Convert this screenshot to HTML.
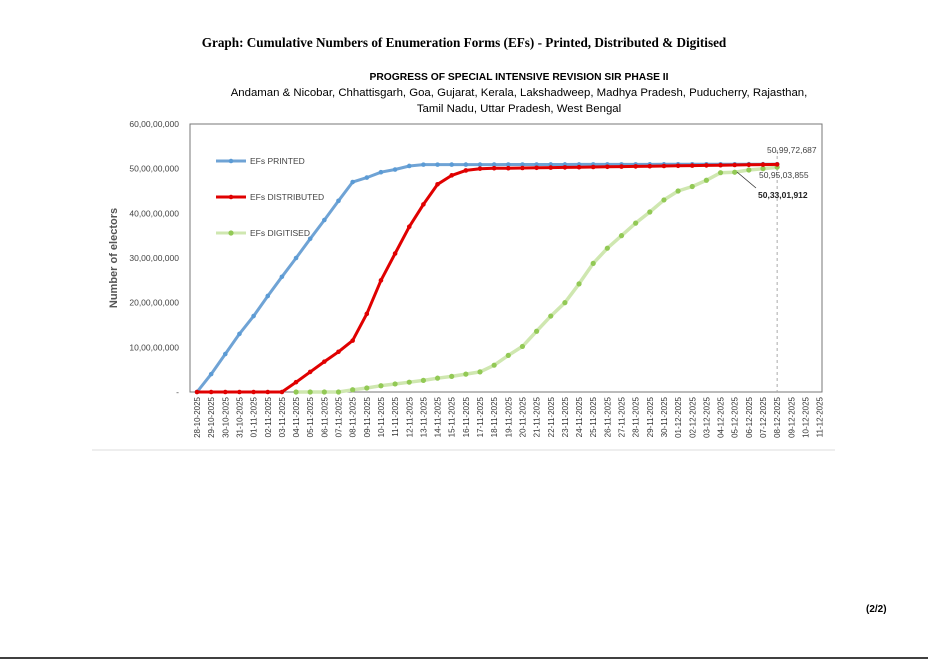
<!DOCTYPE html>
<html><head><meta charset="utf-8"><style>
body{margin:0;background:#fff;width:928px;height:659px;overflow:hidden;font-family:"Liberation Sans",sans-serif}
</style></head><body>
<svg id="s" width="928" height="659" xmlns="http://www.w3.org/2000/svg" font-family="Liberation Sans, sans-serif">
<text x="464" y="47" text-anchor="middle" font-family="Liberation Serif, serif" font-weight="bold" font-size="13.2">Graph: Cumulative Numbers of Enumeration Forms (EFs) - Printed, Distributed &amp; Digitised</text>
<text x="519" y="80" text-anchor="middle" font-weight="bold" font-size="10.3">PROGRESS OF SPECIAL INTENSIVE REVISION SIR PHASE II</text>
<text x="519" y="96" text-anchor="middle" font-size="11.4">Andaman &amp; Nicobar, Chhattisgarh, Goa, Gujarat, Kerala, Lakshadweep, Madhya Pradesh, Puducherry, Rajasthan,</text>
<text x="519" y="112" text-anchor="middle" font-size="11.4">Tamil Nadu, Uttar Pradesh, West Bengal</text>
<line x1="92" y1="450" x2="835" y2="450" stroke="#ddd"/>
<rect x="190" y="124" width="632" height="268" fill="none" stroke="#777" stroke-width="1"/>
<text transform="translate(117,258) rotate(-90)" text-anchor="middle" font-weight="bold" font-size="11" fill="#555">Number of electors</text>
<g id="g"></g>
<text x="866" y="612" font-weight="bold" font-size="10">(2/2)</text>
<line x1="0" y1="658" x2="928" y2="658" stroke="#000" stroke-width="1.5"/>
</svg>
<script>
const g=document.getElementById('g');let h='';
const X=i=>197+14.15*i, Y=v=>392-v*4.467;
for(let k=0;k<=6;k++){let y=Y(k*10);let t=k?k+'0,00,00,000':'-';h+=`<text x="179" y="${y+3}" text-anchor="end" font-size="8.5" fill="#444">${t}</text>`;}
const d0=new Date(2025,9,28);
for(let i=0;i<45;i++){let d=new Date(d0.getTime()+i*864e5);let s=String(d.getDate()).padStart(2,'0')+'-'+String(d.getMonth()+1).padStart(2,'0')+'-2025';
h+=`<text transform="translate(${X(i)+3},397) rotate(-90)" text-anchor="end" font-size="8" fill="#333">${s}</text>`;}
const B=[0,4,8.5,13,17,21.5,25.8,30,34.3,38.5,42.8,47,48,49.2,49.8,50.6,50.9];while(B.length<42)B.push(50.9+0.1*(B.length-17)/24);
const R=[0,0,0,0,0,0,0,2.2,4.5,6.8,9,11.5,17.5,25,31,37,42,46.5,48.5,49.6,50,50.1];while(R.length<42)R.push(50.1+0.85*(R.length-22)/19);
const G=[0,0,0,0,0.5,0.9,1.4,1.8,2.2,2.6,3.1,3.5,4,4.5,6,8.2,10.2,13.6,17,20,24.2,28.8,32.2,35,37.8,40.3,43,45,46,47.4,49.1,49.2,49.7,50,50.33];
function ser(arr,st,c,lc,w,r){let p=arr.map((v,i)=>`${X(i+st).toFixed(1)},${Y(v).toFixed(1)}`).join(' ');
h+=`<polyline points="${p}" fill="none" stroke="${lc}" stroke-width="${w}" stroke-linejoin="round"/>`;
arr.forEach((v,i)=>h+=`<circle cx="${X(i+st)}" cy="${Y(v)}" r="${r}" fill="${c}"/>`);}
h+=`<line x1="${X(41)}" y1="150" x2="${X(41)}" y2="392" stroke="#aaa" stroke-dasharray="3,3"/>`;
ser(G,7,'#92c955','#cfe7b0',3.5,2.6);
ser(B,0,'#5b9bd5','#6fa3d5',3,2.3);
ser(R,0,'#e00000','#e00000',3,2.3);
h+=`<line x1="216" y1="161" x2="246" y2="161" stroke="#6fa3d5" stroke-width="3"/><circle cx="231" cy="161" r="2.3" fill="#5b9bd5"/><text x="250" y="164" font-size="8.5" fill="#444">EFs PRINTED</text>`;
h+=`<line x1="216" y1="197" x2="246" y2="197" stroke="#e00000" stroke-width="3"/><circle cx="231" cy="197" r="2.3" fill="#e00000"/><text x="250" y="200" font-size="8.5" fill="#444">EFs DISTRIBUTED</text>`;
h+=`<line x1="216" y1="233" x2="246" y2="233" stroke="#cfe7b0" stroke-width="3"/><circle cx="231" cy="233" r="2.6" fill="#92c955"/><text x="250" y="236" font-size="8.5" fill="#444">EFs DIGITISED</text>`;
h+=`<text x="767" y="153" font-size="8.5" fill="#444">50,99,72,687</text>`;
h+=`<text x="759" y="178" font-size="8.5" fill="#444">50,95,03,855</text>`;
h+=`<line x1="737" y1="172" x2="756" y2="188" stroke="#333" stroke-width="0.8"/>`;
h+=`<text x="758" y="198" font-size="8.5" font-weight="bold" fill="#222">50,33,01,912</text>`;
g.innerHTML=h;
</script>
</body></html>
